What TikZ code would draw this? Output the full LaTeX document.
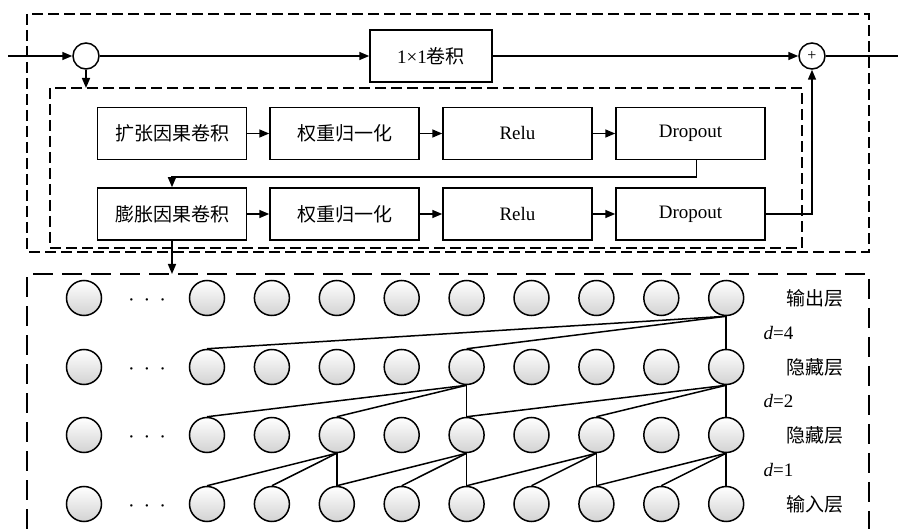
\documentclass[tikz,border=0pt]{standalone}
\usepackage{fontspec}
\setmainfont{Liberation Serif}
\newfontfamily\cjk{Noto Sans CJK SC}
\usetikzlibrary{arrows.meta}
\begin{document}
\begin{tikzpicture}[x=1pt,y=-1pt,
  ln/.style={line width=1.5pt},
  arr/.style={ln,-{Triangle[length=10pt,width=8pt]}},
  blk/.style={draw,line width=1.5pt,minimum width=149pt,minimum height=52pt,inner sep=0pt,font=\fontsize{19}{19}\selectfont},
  dashA/.style={line width=1.5pt,dash pattern=on 11pt off 5pt},
  dashB/.style={line width=1.5pt,dash pattern=on 20pt off 9pt},
  neuron/.style={circle,draw,line width=1.5pt,minimum size=35pt,inner sep=0pt,top color=white,bottom color=gray!35},
  lbl/.style={font=\cjk\fontsize{19}{19}\selectfont},
  dlbl/.style={anchor=west,font=\fontsize{19}{19}\selectfont}]
\useasboundingbox (0,0) rectangle (898,529);
% dashed frames
\draw[dashA] (27,14) rectangle (869,252);
\draw[dashA] (50,88) rectangle (802,248);
\draw[dashB] (27,529) -- (27,274) -- (869,274) -- (869,529);
\coordinate (start) at (8,56);
\coordinate (innerTop) at (86,88);
\coordinate (lowTop) at (174,274);
\coordinate (finish) at (898,56);
% top row
\node[circle,draw,line width=1.5pt,minimum size=26pt,inner sep=0pt] (in) at (86,56) {};
\node[blk,minimum width=122pt,font=\fontsize{19}{19}\selectfont] (conv) at (431,56) {1×1{\cjk 卷积}};
\node[circle,draw,line width=1.5pt,minimum size=26pt,inner sep=0pt,font=\fontsize{16}{16}\selectfont] (plus) at (812,56) {+};
\draw[arr] (start) -- (in);
\draw[arr] (in) -- (conv);
\draw[arr] (conv) -- (plus);
\draw[ln] (plus) -- (finish);
\draw[arr] (in.south) -- (innerTop);
% blocks
\node[blk,font=\cjk\fontsize{19}{19}\selectfont] (a1) at (172,133.5) {扩张因果卷积};
\node[blk,font=\cjk\fontsize{19}{19}\selectfont] (a2) at (344.5,133.5) {权重归一化};
\node[blk] (a3) at (517.5,133.5) {Relu};
\node[blk] (a4) at (690.5,133.5) {Dropout};
\node[blk,font=\cjk\fontsize{19}{19}\selectfont] (b1) at (172,214) {膨胀因果卷积};
\node[blk,font=\cjk\fontsize{19}{19}\selectfont] (b2) at (344.5,214) {权重归一化};
\node[blk] (b3) at (517.5,214) {Relu};
\node[blk] (b4) at (690.5,214) {Dropout};
\draw[arr] (a1) -- (a2);
\draw[arr] (a2) -- (a3);
\draw[arr] (a3) -- (a4);
\draw[arr] (b1) -- (b2);
\draw[arr] (b2) -- (b3);
\draw[arr] (b3) -- (b4);
\draw[arr] ([xshift=6pt]a4.south) -- ++(0,17) -| (b1.north);
\draw[arr] (b4.east) -| (plus.south);
\draw[arr] (b1.south) -- (b1.south |- lowTop);
% neurons
\foreach \r/\y in {0/504,1/435,2/367,3/298}{
  \node[neuron] (c\r) at (84,\y) {};
  \node[font=\fontsize{20}{20}\selectfont] (dots\r) at (147,\y+5) {·\hspace{9pt}·\hspace{9pt}·};
  \foreach \i in {0,...,8}{
    \node[neuron] (n\r-\i) at ({207+64.9*\i},\y) {};
  }
}
% connections d=1
\foreach \i in {2,4,6,8}{
  \pgfmathtruncatemacro{\a}{\i-2}
  \pgfmathtruncatemacro{\b}{\i-1}
  \draw[ln] (n1-\i.south) -- (n0-\a.north);
  \draw[ln] (n1-\i.south) -- (n0-\b.north);
  \draw[ln] (n1-\i.south) -- (n0-\i.north);
}
% d=2
\foreach \i in {4,8}{
  \pgfmathtruncatemacro{\a}{\i-4}
  \pgfmathtruncatemacro{\b}{\i-2}
  \draw[ln] (n2-\i.south) -- (n1-\a.north);
  \draw[ln] (n2-\i.south) -- (n1-\b.north);
  \draw[ln] (n2-\i.south) -- (n1-\i.north);
}
% d=4
\draw[ln] (n3-8.south) -- (n2-0.north);
\draw[ln] (n3-8.south) -- (n2-4.north);
\draw[ln] (n3-8.south) -- (n2-8.north);
% labels
\node[lbl] (l3) at (815,298) {输出层};
\node[lbl] (l2) at (815,367) {隐藏层};
\node[lbl] (l1) at (815,435) {隐藏层};
\node[lbl] (l0) at (815,504) {输入层};
\node[dlbl] (d4) at (760,333) {\textit{d}=4};
\node[dlbl] (d2) at (760,401) {\textit{d}=2};
\node[dlbl] (d1) at (760,470) {\textit{d}=1};
\end{tikzpicture}
\end{document}
